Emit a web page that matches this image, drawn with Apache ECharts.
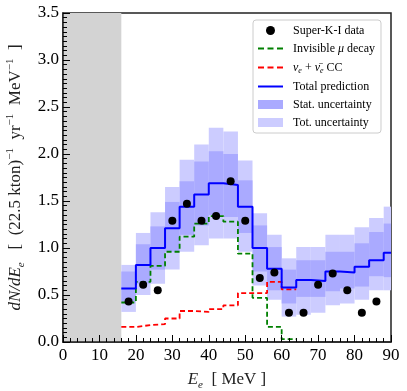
<!DOCTYPE html>
<html>
<head>
<meta charset="utf-8">
<script src="https://cdn.jsdelivr.net/npm/echarts@6/dist/echarts.min.js"></script>
<style>
  html, body { margin: 0; padding: 0; background: #fff; }
  #main { width: 407px; height: 391px; }
</style>
</head>
<body>
<div id="main"></div>
<script>
// bin edges in MeV (4 MeV bins from 16, last one cut at 90)
var binEdges = [16, 20, 24, 28, 32, 36, 40, 44, 48, 52, 56, 60, 64, 68, 72, 76, 80, 84, 88, 90];

// total prediction per bin
var totalPred = [0.57, 0.82, 1.00, 1.21, 1.44, 1.57, 1.69, 1.67, 1.44, 1.00, 0.78, 0.58, 0.66, 0.65, 0.75, 0.74, 0.80, 0.87, 0.95];
// invisible muon decay (ends at 64 MeV)
var invisibleMu = [0.42, 0.64, 0.81, 0.96, 1.12, 1.26, 1.34, 1.28, 0.94, 0.47, 0.16, 0.03];
// nu_e + anti nu_e CC (ends at 64 MeV)
var nueCC = [0.16, 0.18, 0.19, 0.25, 0.33, 0.32, 0.35, 0.39, 0.52, 0.52, 0.64, 0.56];

// uncertainty bands
var statLo = [0.43, 0.62, 0.77, 0.96, 1.14, 1.24, 1.35, 1.33, 1.16, 0.75, 0.55, 0.41, 0.48, 0.48, 0.54, 0.57, 0.59, 0.70, 0.69];
var statHi = [0.75, 1.04, 1.23, 1.49, 1.71, 1.92, 2.03, 2.00, 1.72, 1.24, 1.01, 0.77, 0.87, 0.87, 0.96, 0.96, 1.05, 1.17, 1.26];
var totLo  = [0.32, 0.50, 0.62, 0.77, 0.96, 1.03, 1.10, 1.10, 0.96, 0.60, 0.45, 0.27, 0.29, 0.31, 0.39, 0.41, 0.45, 0.55, 0.55];
var totHi  = [0.82, 1.16, 1.38, 1.65, 1.94, 2.10, 2.28, 2.24, 1.93, 1.37, 1.14, 0.89, 1.01, 1.01, 1.14, 1.14, 1.22, 1.32, 1.44];

// Super-K-I data points
var dataE = [18, 22, 26, 30, 34, 38, 42, 46, 50, 54, 58, 62, 66, 70, 74, 78, 82, 86];
var dataN = [0.43, 0.61, 0.55, 1.29, 1.47, 1.29, 1.34, 1.71, 1.29, 0.68, 0.74, 0.31, 0.31, 0.61, 0.73, 0.55, 0.31, 0.43];

var thresholdE = 16;

var FONT = 'Liberation Serif';

// legend glyphs (plain line / dashed line)
var ICON_SOLID = 'path://M0,0h25v2h-25z';
var ICON_DASH = 'path://M0,0h6v2h-6z M9.5,0h6v2h-6z M19,0h6v2h-6z';

// step line points: value of bin i held from edge i to edge i+1
function stepPoints(vals) {
    var pts = vals.map(function (v, i) { return [binEdges[i], v]; });
    pts.push([binEdges[vals.length], vals[vals.length - 1]]);
    return pts;
}

function bandData(lo, hi) {
    return lo.map(function (v, i) { return [binEdges[i], binEdges[i + 1], v, hi[i]]; });
}

function bandSeries(name, lo, hi, color, z) {
    return {
        type: 'custom',
        name: name,
        z: z,
        silent: true,
        itemStyle: { color: color },
        encode: { x: [0, 1], y: [2, 3] },
        data: bandData(lo, hi),
        renderItem: function (params, api) {
            var p0 = api.coord([api.value(0), api.value(3)]);
            var p1 = api.coord([api.value(1), api.value(2)]);
            return {
                type: 'rect',
                shape: { x: p0[0], y: p0[1], width: p1[0] - p0[0], height: p1[1] - p0[1] },
                style: { fill: color }
            };
        }
    };
}

var myChart = echarts.init(document.getElementById('main'));

var rich = {
    i: { fontFamily: FONT, fontStyle: 'italic', fontSize: 17 },
    n: { fontFamily: FONT, fontSize: 17 },
    sub: { fontFamily: FONT, fontStyle: 'italic', fontSize: 11, verticalAlign: 'bottom', lineHeight: 22 },
    sup: { fontFamily: FONT, fontSize: 11, verticalAlign: 'top', lineHeight: 22 }
};

var legendRich = {
    i: { fontFamily: FONT, fontStyle: 'italic', fontSize: 12 },
    n: { fontFamily: FONT, fontSize: 12 },
    sub: { fontFamily: FONT, fontStyle: 'italic', fontSize: 8, verticalAlign: 'bottom', lineHeight: 15 }
};

var series = [
    bandSeries('Tot. uncertainty', totLo, totHi, '#ccccff', 1),
    bandSeries('Stat. uncertainty', statLo, statHi, '#aaaaff', 2),
    {
        type: 'line',
        name: 'Invisible mu decay',
        step: 'end',
        symbol: 'none',
        z: 3,
        itemStyle: { color: '#008000' },
        lineStyle: { color: '#008000', width: 1.8, type: [5, 3] },
        data: stepPoints(invisibleMu)
    },
    {
        type: 'line',
        name: 'nue CC',
        step: 'end',
        symbol: 'none',
        z: 3,
        itemStyle: { color: '#ff0000' },
        lineStyle: { color: '#ff0000', width: 1.8, type: [5, 3] },
        data: stepPoints(nueCC)
    },
    {
        type: 'line',
        name: 'Total prediction',
        step: 'end',
        symbol: 'none',
        z: 4,
        itemStyle: { color: '#0000ff' },
        lineStyle: { color: '#0000ff', width: 2 },
        data: stepPoints(totalPred)
    },
    {
        type: 'scatter',
        name: 'Super-K-I data',
        z: 5,
        symbolSize: 8,
        itemStyle: { color: '#000', opacity: 1 },
        data: dataE.map(function (e, i) { return [e, dataN[i]]; }),
        markArea: {
            silent: true,
            itemStyle: { color: '#d3d3d3', opacity: 1 },
            data: [[{ xAxis: 0 }, { xAxis: thresholdE }]]
        }
    }
];

var tickStyle = { color: '#000', width: 1 };

myChart.setOption({
    animation: false,
    backgroundColor: '#fff',
    grid: {
        left: 63, right: 16, top: 13, bottom: 49,
        outerBoundsMode: 'none',
        show: true, borderColor: '#222', borderWidth: 1.5, backgroundColor: 'transparent'
    },
    legend: {
        orient: 'vertical',
        left: 253, top: 20,
        padding: [4, 6, 4, 5],
        itemGap: 5,
        itemWidth: 25,
        itemHeight: 9,
        backgroundColor: '#fff',
        borderColor: '#ccc',
        borderWidth: 1,
        borderRadius: 3,
        textStyle: { fontFamily: FONT, fontSize: 12, color: '#000', lineHeight: 13, padding: [0, 0, 0, 5], rich: legendRich },
        data: [
            { name: 'Super-K-I data', icon: 'circle', itemStyle: { color: '#000', opacity: 1 } },
            { name: 'Invisible mu decay', icon: ICON_DASH, itemStyle: { color: '#008000' } },
            { name: 'nue CC', icon: ICON_DASH, itemStyle: { color: '#ff0000' } },
            { name: 'Total prediction', icon: ICON_SOLID, itemStyle: { color: '#0000ff' } },
            { name: 'Stat. uncertainty', icon: 'rect' },
            { name: 'Tot. uncertainty', icon: 'rect' }
        ],
        formatter: function (name) {
            if (name === 'Invisible mu decay') return '{n|Invisible }{i|μ}{n| decay}';
            if (name === 'nue CC') return '{i|ν}{sub|e}{n| + }{i|ν̄}{sub|e}{n| CC}';
            return '{n|' + name + '}';
        }
    },
    xAxis: {
        type: 'value',
        min: 0, max: 90, interval: 10,
        name: '{i|E}{sub|e}{n|  [ MeV ]}',
        nameLocation: 'middle',
        nameGap: 27,
        nameTextStyle: { rich: rich },
        z: 10,
        axisLine: { show: true, lineStyle: { color: '#222', width: 1.5 } },
        axisTick: { show: true, inside: true, length: 7, lineStyle: tickStyle },
        minorTick: { show: true, splitNumber: 5, length: 4, lineStyle: tickStyle },
        axisLabel: { fontFamily: FONT, fontSize: 17, color: '#000', margin: 5 },
        splitLine: { show: false }
    },
    yAxis: {
        type: 'value',
        min: 0, max: 3.5, interval: 0.5,
        name: '{i|dN/dE}{sub|e}{n|   [  (22.5 kton)}{sup|−1}{n|  yr}{sup|−1}{n|  MeV}{sup|−1}{n|  ]}',
        nameLocation: 'middle',
        nameGap: 36,
        nameRotate: 90,
        nameTextStyle: { rich: rich },
        z: 10,
        axisLine: { show: true, lineStyle: { color: '#222', width: 1.5 } },
        axisTick: { show: true, inside: true, length: 7, lineStyle: tickStyle },
        minorTick: { show: true, splitNumber: 10, length: 4, lineStyle: tickStyle },
        axisLabel: {
            fontFamily: FONT, fontSize: 17, color: '#000', margin: 4,
            formatter: function (v) { return v.toFixed(1); }
        },
        splitLine: { show: false }
    },
    series: series
});
</script>
</body>
</html>
